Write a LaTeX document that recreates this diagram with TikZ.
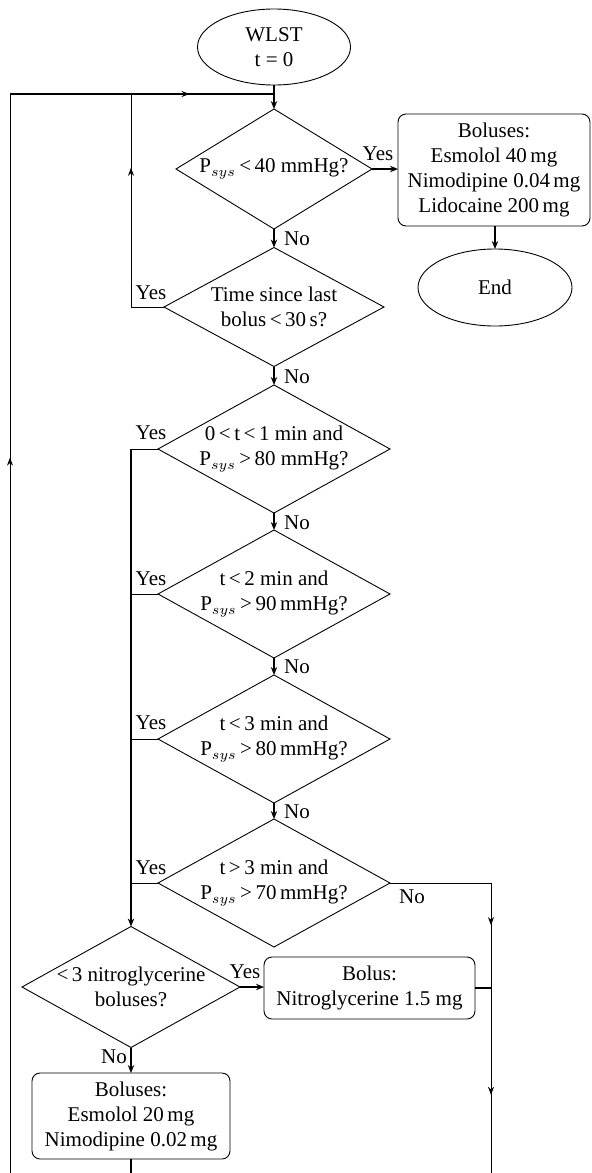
\documentclass[tikz,border=0pt]{standalone}
\usepackage{fontspec}
\setmainfont{Liberation Serif}
\usetikzlibrary{positioning,shapes.geometric,arrows.meta,decorations.markings}
\newcommand{\Psys}{P$_{sys}$}

\tikzset{
  decision/.style={diamond, draw, line width=0.45pt, aspect=1.8, inner sep=-8pt, outer sep=0pt, align=center},
  bolusbox/.style={rectangle, rounded corners=4pt, draw, line width=0.45pt, inner sep=0pt, outer sep=0pt, align=center},
  terminal/.style={ellipse, draw, line width=0.45pt, inner sep=0pt, outer sep=0pt, align=center},
  flow/.style={line width=0.8pt, -{Stealth[length=4pt,width=3.2pt]}},
  back/.style={line width=0.45pt},
  lbl/.style={inner sep=0pt},
  midarrow/.style={postaction={decorate}, decoration={markings,
      mark=at position #1 with {\arrow{Stealth[length=4pt,width=3pt]}}}},
  twoarrows/.style 2 args={postaction={decorate}, decoration={markings,
      mark=at position #1 with {\arrow{Stealth[length=4pt,width=3pt]}},
      mark=at position #2 with {\arrow{Stealth[length=4pt,width=3pt]}}}}
}

\begin{document}
\begin{tikzpicture}[x=0.5pt,y=-0.5pt,font=\fontsize{10.5}{12.5}\selectfont]
  \useasboundingbox (0,0) rectangle (591,1173);

  % start, first test and stop
  \node[terminal, minimum width=76.5pt, minimum height=38pt] (wlst) at (274,47) {WLST\\t = 0};
  \node[decision, minimum width=98pt, minimum height=60pt] (d1) at (274,169) {\Psys\,<\,40 mmHg?};
  \node[bolusbox, minimum width=96pt, minimum height=56pt] (bol1) at (494,170)
    {Boluses:\\Esmolol 40\,mg\\Nimodipine 0.04\,mg\\Lidocaine 200\,mg};
  \node[terminal, minimum width=77pt, minimum height=38.5pt] (stop) at (495,287.5) {End};
  \node[decision, minimum width=110pt, minimum height=59.5pt] (d2) at (274,307) {Time since last\\bolus\,<\,30\,s?};

  % pressure tests
  \foreach \n/\yc/\txt in {
    3/449/{0\,<\,t\,<\,1 min and\\\Psys\,>\,80 mmHg?},
    4/594/{t\,<\,2 min and\\\Psys\,>\,90\,mmHg?},
    5/739/{t\,<\,3 min and\\\Psys\,>\,80\,mmHg?},
    6/883/{t\,>\,3 min and\\\Psys\,>\,70\,mmHg?}}
  {
    \node[decision, minimum width=116pt, minimum height=64pt] (d\n) at (274,\yc) {\txt};
  }

  % nitroglycerine
  \node[decision, minimum width=109pt, minimum height=60.5pt] (d7) at (131,987) {<\,3 nitroglycerine\\boluses?};
  \node[bolusbox, minimum width=105.5pt, minimum height=31pt] (nitro) at (369.5,988) {Bolus:\\Nitroglycerine 1.5 mg};
  \node[bolusbox, minimum width=99pt, minimum height=43pt] (bol2) at (131,1116)
    {Boluses:\\Esmolol 20\,mg\\Nimodipine 0.02\,mg};

  % labels
  \node[lbl] (yes1) at (378,154) {Yes};
  \foreach \n/\yc in {2/293,3/433,4/579,5/723,6/868}
    \node[lbl] (yes\n) at (151,\yc) {Yes};
  \foreach \n/\yc in {1/239,2/377,3/523,4/667,5/812}
    \node[lbl] (no\n) at (297,\yc) {No};
  \node[lbl] (no6) at (412,897) {No};
  \node[lbl] (yes7) at (245,972) {Yes};
  \node[lbl] (no7) at (114,1057) {No};

  % junctions
  \coordinate (join) at (274,94);
  \coordinate (outerTop) at (10,94);
  \coordinate (outerBot) at (10,1173);
  \coordinate (loopTop) at (131,94);
  \coordinate (yesTop) at (131,449);
  \coordinate (rightBot) at (491,1173);
  \coordinate (bol2Bot) at (131,1173);

  % main flow
  \draw[flow] (wlst) -- (d1);
  \draw[flow] (d1.east) -- (d1.east -| bol1.west);
  \draw[flow] (bol1.south -| stop) -- (stop);
  \foreach \a/\b in {1/2,2/3,3/4,4/5,5/6}
    \draw[flow] (d\a) -- (d\b);
  \draw[flow] (yesTop) -- (d7);
  \draw[flow] (d7.east) -- (d7.east -| nitro.west);
  \draw[flow] (d7) -- (bol2);
  \draw[line width=0.8pt] (nitro.east) -- (nitro.east -| rightBot);
  \draw[line width=0.8pt] (bol2) -- (bol2Bot);

  % loops back
  \draw[back, midarrow=0.663] (outerBot) -- (outerTop);
  \draw[line width=0.8pt, midarrow=0.68] (outerTop) -- (join);
  \draw[back, midarrow=0.70] (d2.west) -| (loopTop);
  \foreach \n in {3,4,5,6}
    \draw[back] (d\n.west) -- (d\n.west -| yesTop);
  \draw[back, twoarrows={0.366}{0.80}] (d6.east) -| (rightBot);
\end{tikzpicture}
\end{document}
